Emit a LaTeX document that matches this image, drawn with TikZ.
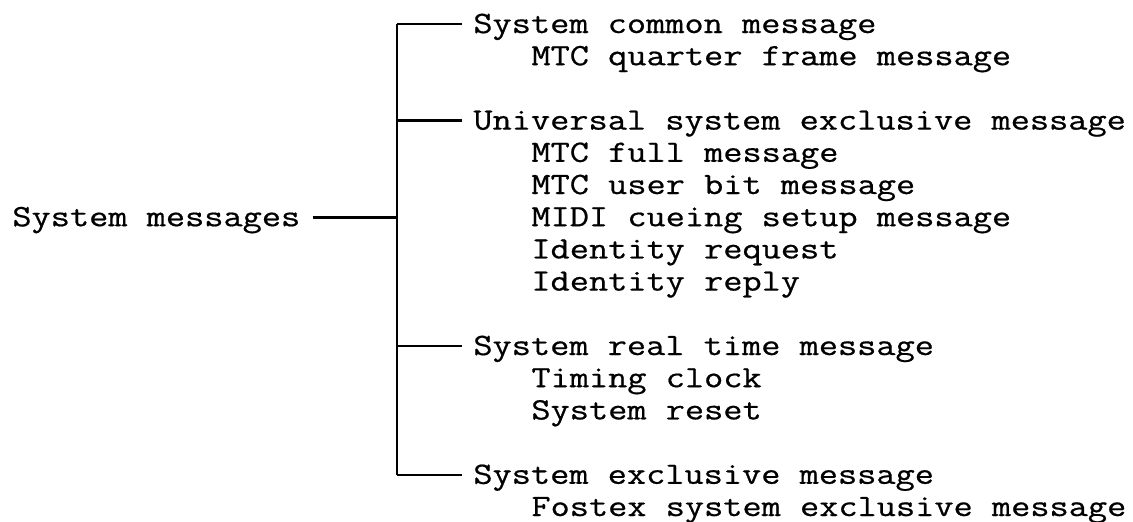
\documentclass[tikz,border=0pt]{standalone}
\usepackage{fontspec}
\usepackage{graphicx}
\setmonofont{Latin Modern Mono}[FakeBold=0.6]
\newcommand{\mytx}[1]{\scalebox{1.202}[1]{#1}}
\begin{document}
\begin{tikzpicture}[x=0.5pt,y=-0.5pt,
  txt/.style={font=\ttfamily\fontsize{15.5}{19}\selectfont, anchor=west, inner ysep=0pt, inner xsep=5.5pt, text height=9.0pt, text depth=0pt},
  conn/.style={line width=1.3pt, line cap=butt}]
\useasboundingbox (0,0) rectangle (1133,521);
\def\ly#1{24+32.2*#1}
% root
\node[txt, inner xsep=6pt] (root) at (0,{\ly{6}}) {\mytx{System messages}};
% branch nodes
\node[txt] (b1) at (462,{\ly{0}}) {\mytx{System common message}};
\node[txt] (s11) at (520,{\ly{1}}) {\mytx{MTC quarter frame message}};
\node[txt] (b2) at (462,{\ly{3}}) {\mytx{Universal system exclusive message}};
\node[txt] (s21) at (520,{\ly{4}}) {\mytx{MTC full message}};
\node[txt] (s22) at (520,{\ly{5}}) {\mytx{MTC user bit message}};
\node[txt] (s23) at (520,{\ly{6}}) {\mytx{MIDI cueing setup message}};
\node[txt] (s24) at (520,{\ly{7}}) {\mytx{Identity request}};
\node[txt] (s25) at (520,{\ly{8}}) {\mytx{Identity reply}};
\node[txt] (b3) at (462,{\ly{10}}) {\mytx{System real time message}};
\node[txt] (s31) at (520,{\ly{11}}) {\mytx{Timing clock}};
\node[txt] (s32) at (520,{\ly{12}}) {\mytx{System reset}};
\node[txt] (b4) at (462,{\ly{14}}) {\mytx{System exclusive message}};
\node[txt] (s41) at (520,{\ly{15}}) {\mytx{Fostex system exclusive message}};
% junction coordinates
\coordinate (j1) at (397,{\ly{0}});
\coordinate (j2) at (397,{\ly{3}});
\coordinate (jr) at (397,{\ly{6}});
\coordinate (j3) at (397,{\ly{10}});
\coordinate (j4) at (397,{\ly{14}});
\draw[conn] (j1) -- (j4);
\draw[conn] (root.east) -- (jr);
\draw[conn] (j1) -- (b1.west);
\draw[conn] (j2) -- (b2.west);
\draw[conn] (j3) -- (b3.west);
\draw[conn] (j4) -- (b4.west);
\end{tikzpicture}
\end{document}
